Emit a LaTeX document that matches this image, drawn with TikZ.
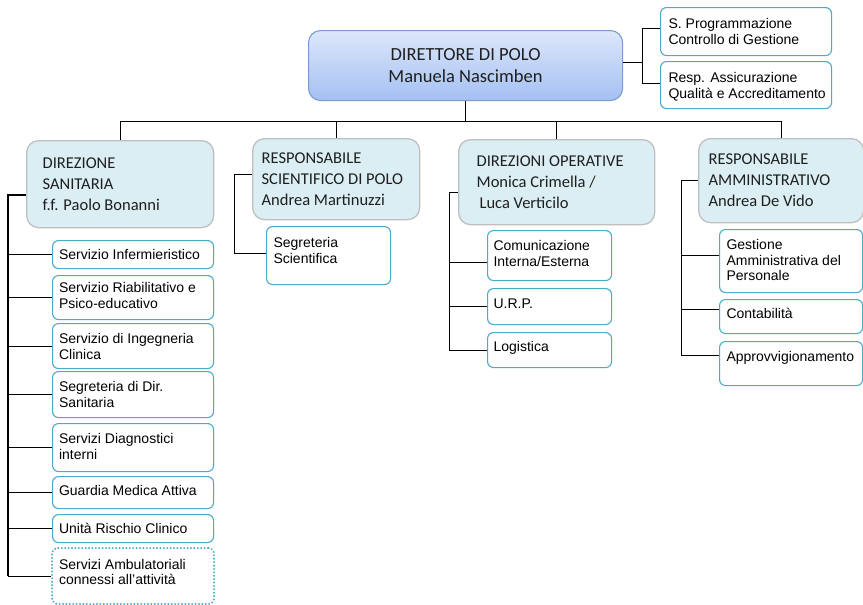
\documentclass[tikz,border=0pt]{standalone}
\usepackage{fontspec}
\usepackage{xcolor}
\usepackage{tikz}
\newfontfamily\headfont{Carlito}
\newfontfamily\cellfont{Liberation Sans}
\definecolor{celledge}{HTML}{4BACC6}
\definecolor{headfill}{HTML}{DAEEF3}
\definecolor{headedge}{HTML}{BFBFBF}
\definecolor{dirtop}{HTML}{DDE7FA}
\definecolor{dirbot}{HTML}{A4C0F2}
\definecolor{diredge}{HTML}{7C9BD3}
% width, height, left pad, first baseline, text
\newcommand{\orgcell}[5]{%
  \parbox[t][#2pt][t]{#1pt}{\raggedright\leftskip=#3pt\relax
    \vspace*{\dimexpr#4pt-\ht\strutbox\relax}\strut#5}}

\begin{document}
\begin{tikzpicture}[x=1pt, y=-1pt,
    conn/.style={draw=black, line width=1pt},
    trunk/.style={draw=black, line width=1.8pt},
    cell/.style={draw=celledge, line width=1.1pt, rounded corners=6pt, fill=white,
      inner sep=0pt, anchor=north west, text=black, font=\cellfont\fontsize{14}{15.5}\selectfont},
    cellplan/.style={dash pattern=on 0.1pt off 3.3pt, line cap=round, line width=2.1pt},
    headbox/.style={draw=headedge, line width=1.3pt, rounded corners=12pt, fill=headfill,
      inner sep=0pt, anchor=north west, text=black!88, font=\headfont\fontsize{16.5}{21}\selectfont},
    dirbox/.style={draw=diredge, line width=1.1pt, rounded corners=12pt, top color=dirtop,
      bottom color=dirbot, minimum width=314pt, minimum height=70pt, align=center,
      anchor=north west, text=black!88, font=\headfont\fontsize{18.5}{22}\selectfont}]
  \useasboundingbox (0,0) rectangle (863,605);

  % direttore and staff
  \node[dirbox] (dir) at (308,30) {DIRETTORE DI POLO\\Manuela Nascimben};
  \node[cell] (prog) at (660,7) {\orgcell{171}{48}{8}{21}{S. Programmazione\\Controllo di Gestione}};
  \node[cell] (ass) at (660,61) {\orgcell{171}{47}{8}{21}{Resp. Assicurazione\\Qualità e Accreditamento}};

  % direzioni
  \node[headbox] (dirsan) at (26,140) {\orgcell{187}{87}{16}{28}{DIREZIONE\\SANITARIA\\f.f. Paolo Bonanni}};
  \node[headbox] (ressci) at (252,138) {\orgcell{167}{81}{9}{25}{RESPONSABILE\\SCIENTIFICO DI POLO\\Andrea Martinuzzi}};
  \node[headbox] (dirop) at (458,139) {\orgcell{196}{85}{18}{27}{DIREZIONI OPERATIVE\\Monica Crimella /\\\hspace*{3pt}Luca Verticilo}};
  \node[headbox] (resamm) at (698,138) {\orgcell{165}{84}{10}{26}{RESPONSABILE\\AMMINISTRATIVO\\Andrea De Vido}};

  % direzione sanitaria
  \node[cell] (infer) at (52,240) {\orgcell{161}{28}{6.5}{19}{Servizio Infermieristico}};
  \node[cell] (riab) at (52,275) {\orgcell{161}{44}{6.5}{17}{Servizio Riabilitativo e\\Psico-educativo}};
  \node[cell] (ing) at (52,323) {\orgcell{161}{45}{6.5}{20}{Servizio di Ingegneria\\Clinica}};
  \node[cell] (segds) at (52,371) {\orgcell{161}{46}{6.5}{20}{Segreteria di Dir.\\Sanitaria}};
  \node[cell] (diag) at (52,423) {\orgcell{161}{48}{6.5}{20}{Servizi Diagnostici\\interni}};
  \node[cell] (guard) at (52,476) {\orgcell{161}{32}{6.5}{19}{Guardia Medica Attiva}};
  \node[cell] (rischio) at (52,514) {\orgcell{161}{28}{6.5}{19}{Unità Rischio Clinico}};
  \node[cell, cellplan] (amb) at (51,547) {\orgcell{162}{56}{7}{21}{Servizi Ambulatoriali\\connessi all’attività}};

  % responsabile scientifico
  \node[cell] (segsci) at (266,226) {\orgcell{124}{58}{7}{21}{Segreteria\\Scientifica}};

  % direzioni operative
  \node[cell] (com) at (487,230) {\orgcell{124}{50}{6}{20}{Comunicazione\\Interna/Esterna}};
  \node[cell] (urp) at (487,288) {\orgcell{124}{36}{6}{20}{U.R.P.}};
  \node[cell] (logi) at (487,332) {\orgcell{124}{35}{6}{19}{Logistica}};

  % responsabile amministrativo
  \node[cell] (gest) at (719,229) {\orgcell{143}{63}{7}{20}{Gestione\\Amministrativa del\\Personale}};
  \node[cell] (cont) at (719,299) {\orgcell{143}{34}{7}{19}{Contabilità}};
  \node[cell] (appr) at (719,341) {\orgcell{143}{44}{7}{20}{Approvvigionamento}};

  % connectors
  \draw[conn] (dir.south) -- ++(0,20) coordinate (bus);
  \draw[conn] (dirsan.north) |- (bus) -| (resamm.north);
  \draw[conn] (ressci.north) -- (ressci.north |- bus);
  \draw[conn] (dirop.north) -- (dirop.north |- bus);

  \draw[conn] ([yshift=3pt]dir.east) -- ++(19,0) coordinate (staff);
  \draw[conn] ([yshift=3pt]prog.west) -| (staff);
  \draw[conn] ([yshift=1.5pt]ass.west) -| (staff);

  \draw[trunk] ([yshift=-10.5pt]dirsan.west) -- ++(-18,0) coordinate (g1) -- (g1 |- amb.west);
  \foreach \c in {infer, riab, ing, segds, diag, guard, rischio, amb}
    \draw[conn] (\c.west) -| (g1);

  \draw[conn] ([yshift=4.5pt]ressci.west) -- ++(-18,0) coordinate (g2);
  \draw[conn] ([yshift=2pt]segsci.west) -| (g2);

  \draw[conn] ([yshift=-10.5pt]dirop.west) -- ++(-9,0) coordinate (g3);
  \draw[conn] ([yshift=-7pt]com.west) -| (g3);
  \draw[conn] (urp.west) -| (g3);
  \draw[conn] (logi.west) -| (g3);

  \draw[conn] (resamm.west) -- ++(-17,0) coordinate (g4);
  \draw[conn] ([yshift=5.5pt]gest.west) -| (g4);
  \draw[conn] ([yshift=7pt]cont.west) -| (g4);
  \draw[conn] ([yshift=8pt]appr.west) -| (g4);
\end{tikzpicture}
\end{document}
